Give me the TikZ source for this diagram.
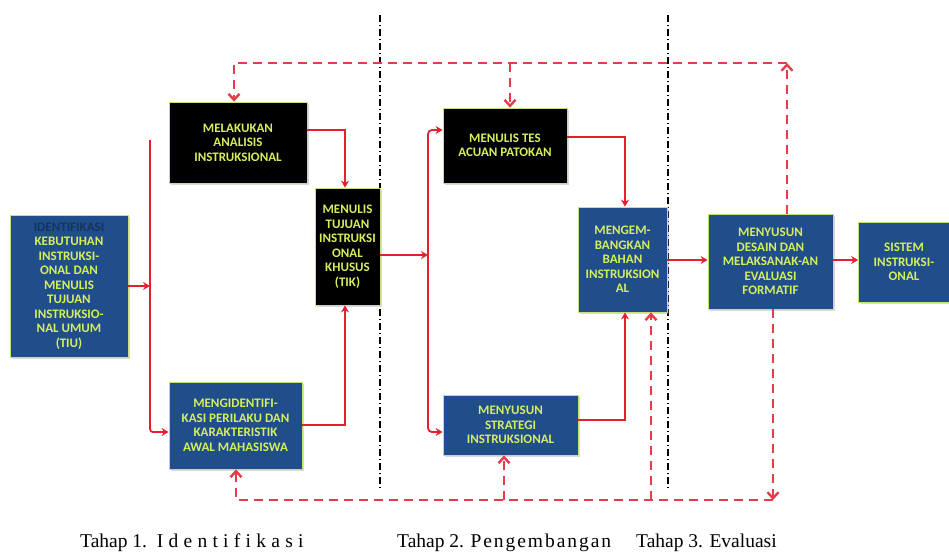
\documentclass[tikz,border=0pt]{standalone}
\usepackage{fontspec}
\setmainfont{Liberation Serif}
\newfontfamily\carl{Carlito}
\newfontfamily\spacedA{Liberation Serif}[LetterSpace=27]
\newfontfamily\spacedB{Liberation Serif}[LetterSpace=10]
\usetikzlibrary{arrows.meta,shadows}
\definecolor{boxblue}{HTML}{1F4E8A}
\definecolor{boxedge}{HTML}{C9E07A}
\definecolor{txtyel}{HTML}{D6EE5E}
\definecolor{darktxt}{HTML}{14335E}
\definecolor{flowred}{HTML}{E5202E}
\definecolor{dashred}{HTML}{E43C4A}
\tikzset{
  box/.style={draw=boxedge, line width=0.8pt, align=center, text=txtyel, inner sep=1pt,
    font=\carl\bfseries\fontsize{13}{14.5}\selectfont,
    drop shadow={shadow xshift=2pt, shadow yshift=-2pt, opacity=0.3}},
  bluebox/.style={box, fill=boxblue},
  blackbox/.style={box, fill=black},
  flow/.style={draw=flowred, line width=1.8pt, -{Stealth[length=7pt,width=8pt]}},
  fb/.style={draw=dashred, line width=2.4pt, dash pattern=on 9pt off 6pt, -{Straight Barb[length=6pt,width=11pt]}},
  divider/.style={draw=black, line width=1.1pt, dash pattern=on 7pt off 3pt on 1pt off 3pt},
  tahap/.style={anchor=base west, inner sep=0pt, font=\fontsize{19.5}{22}\selectfont}
}
\begin{document}
\begin{tikzpicture}[x=1pt,y=-1pt]
\useasboundingbox (0,0) rectangle (949,556);
% dividers
\coordinate (d1a) at (380,15); \coordinate (d1b) at (380,490);
\coordinate (d2a) at (668,15); \coordinate (d2b) at (668,490);
\draw[divider] (d1a) -- (d1b);
\draw[divider] (d2a) -- (d2b);
% boxes
\node[bluebox, minimum width=118pt, minimum height=142pt] (A) at (69,286)
  {{\color{darktxt}IDENTIFIKASI}\\KEBUTUHAN\\INSTRUKSI-\\ONAL DAN\\MENULIS\\TUJUAN\\INSTRUKSIO-\\NAL UMUM\\(TIU)};
\node[blackbox, minimum width=138pt, minimum height=81pt] (B) at (238,142.5)
  {MELAKUKAN\\ANALISIS\\INSTRUKSIONAL};
\node[bluebox, minimum width=133pt, minimum height=87pt] (C) at (235.5,425.5)
  {MENGIDENTIFI-\\KASI PERILAKU DAN\\KARAKTERISTIK\\AWAL MAHASISWA};
\node[blackbox, minimum width=65pt, minimum height=117pt] (D) at (347.5,246.5)
  {MENULIS\\TUJUAN\\INSTRUKSI\\ONAL\\KHUSUS\\(TIK)};
\node[blackbox, minimum width=124pt, minimum height=75pt] (E) at (505,145.5)
  {MENULIS TES\\ACUAN PATOKAN};
\node[bluebox, minimum width=135pt, minimum height=60pt] (F) at (510.5,425)
  {MENYUSUN\\STRATEGI\\INSTRUKSIONAL};
\node[bluebox, minimum width=89pt, minimum height=105pt] (G) at (622.5,259.5)
  {MENGEM-\\BANGKAN\\BAHAN\\INSTRUKSION\\AL};
\node[bluebox, minimum width=125pt, minimum height=95pt] (H) at (770.5,261.5)
  {MENYUSUN\\DESAIN DAN\\MELAKSANAK-AN\\EVALUASI\\FORMATIF};
\node[bluebox, minimum width=91pt, minimum height=80pt] (I) at (904,262)
  {SISTEM\\INSTRUKSI-\\ONAL};
% solid flow
\coordinate (s1t) at (150,140); \coordinate (s1b) at (150,432);
\draw[flow] (A.east) -- (A.east -| s1t);
\draw[flow, rounded corners=3pt] (s1t) -- (s1b) -- (s1b -| C.west);
\coordinate (b1) at (345,130);
\draw[flow] (b1 -| B.east) -- (b1) -- (b1 |- D.north);
\coordinate (c1) at (345,425);
\draw[flow] (c1 -| C.east) -- (c1) -- (c1 |- D.south);
\coordinate (v2t) at (428,130); \coordinate (v2b) at (428,432); \coordinate (dd) at (428,255);
\draw[flow] (dd -| D.east) -- (dd);
\draw[flow, {Stealth[length=7pt,width=8pt]}-{Stealth[length=7pt,width=8pt]}, rounded corners=4pt]
  (v2t -| E.west) -- (v2t) -- (v2b) -- (v2b -| F.west);
\coordinate (e1) at (625,137);
\draw[flow] (e1 -| E.east) -- (e1) -- (e1 |- G.north);
\coordinate (f1) at (625,420);
\draw[flow] (f1 -| F.east) -- (f1) -- (f1 |- G.south);
\draw[flow] (G.east |- 0,260) -- (H.west |- 0,260);
\draw[flow] (H.east |- 0,260) -- (I.west |- 0,260);
% dashed feedback top
\coordinate (t1) at (234,63); \coordinate (t2) at (510,63); \coordinate (t3) at (787,63);
\draw[fb] (t3 |- H.north) -- (t3);
\draw[fb] (t3) -- (t1) -- (t1 |- B.north);
\draw[fb] (t2) -- (t2 |- E.north);
% dashed feedback bottom
\coordinate (u1) at (236,500); \coordinate (u2) at (504,500); \coordinate (u3) at (651,500); \coordinate (u4) at (773,500);
\draw[fb] (u4 |- H.south) -- (u4);
\draw[fb] (u4) -- (u1) -- (u1 |- C.south);
\draw[fb] (u2) -- (u2 |- F.south);
\draw[fb] (u3) -- (u3 |- G.south);
% stage labels
\node[tahap] (L1) at (80,547) {Tahap 1.\ \ {\spacedA Identifikasi}};
\node[tahap] (L2) at (397,547) {Tahap 2. {\spacedB Pengembangan}};
\node[tahap] (L3) at (636,547) {Tahap 3. Evaluasi};
\end{tikzpicture}
\end{document}
